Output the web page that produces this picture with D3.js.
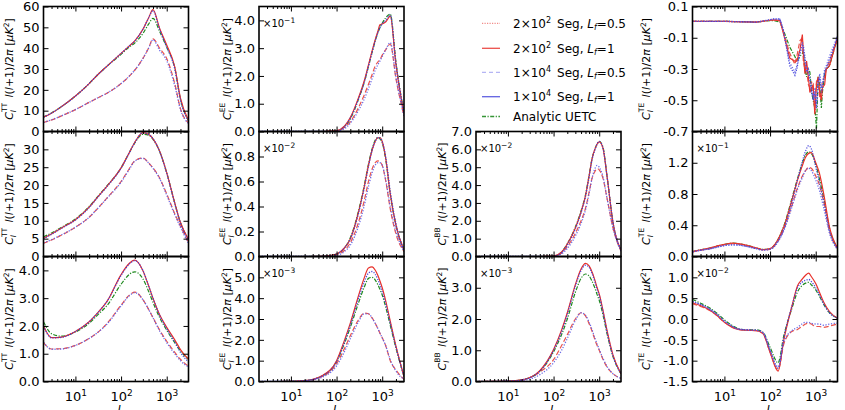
<!DOCTYPE html>
<html>
<head>
<meta charset="utf-8">
<script src="https://cdn.jsdelivr.net/npm/d3@7"></script>
<style>
  body { margin: 0; background: #fff; }
  text { font-family: "DejaVu Sans", sans-serif; fill: #000; }
</style>
</head>
<body>
<svg id="chart" width="845" height="410"></svg>
<script>
// multipole grids
const ellTT  = [2, 3, 5, 10, 20, 30, 50, 100, 150, 200, 300, 400, 500, 700, 1000, 1500, 2000, 3000];
const ellPol = [2, 5, 10, 20, 50, 100, 150, 200, 300, 400, 500, 600, 700, 800, 900, 1000, 1200, 1500, 2000, 3000];
const ellTE  = [2, 3, 5, 7, 10, 15, 20, 30, 50, 70, 100, 150, 200, 300, 400, 500, 600, 700, 800, 1000, 1200, 1500, 2000, 3000];
const ellTE0 = [2, 10, 50, 100, 120, 165, 195, 270, 350, 385, 450, 510, 535, 580, 630, 690, 745, 810, 880, 955, 990, 1040, 1130, 1225, 1330, 1400, 1570, 1700, 2000, 3000];

// TT, top row (scalar)
const tt0_r05  = [4.3, 5.5, 7.5, 10.5, 14, 16, 18.5, 23, 26.5, 29.5, 35, 40, 44.5, 40, 35, 23, 11, 4];
const tt0_r1   = [6.9, 8.8, 12, 17, 23, 27, 31.5, 37.5, 41, 43.5, 49, 54.5, 58.5, 49.5, 41.5, 31, 16, 5.3];
const tt0_b05  = [4.4, 5.6, 7.6, 10.5, 14, 16, 18.5, 23, 26.5, 29.5, 35, 40, 44, 39, 34, 22, 10.5, 3.8];
const tt0_b1   = [6.9, 8.8, 12, 17, 23, 27, 31.5, 37.5, 41, 43.5, 49, 54.5, 58, 49, 40.5, 30, 15, 5];
const tt0_uetc = [7.0, 8.9, 12, 17, 23, 27, 31.5, 37, 40.5, 42.5, 47, 51.5, 54.3, 48, 40.5, 30.5, 15.5, 5.2];
// TT, middle row (vector)
const tt1_r05  = [3.7, 4.6, 6, 8.2, 11, 13.3, 16.5, 21, 24.5, 26.8, 27.6, 26.2, 24.8, 22, 17.5, 12, 8.5, 3.8];
const tt1_r1   = [5.1, 6.3, 8, 10.3, 13.8, 16.5, 19.8, 24.8, 29, 32, 34.7, 34.2, 33, 29.5, 23.5, 15, 9.5, 4.8];
const tt1_b05  = [3.8, 4.7, 6.1, 8.2, 11, 13.3, 16.4, 20.8, 24.3, 26.7, 27.5, 26.2, 24.7, 21.8, 17.2, 11.7, 8.2, 3.6];
const tt1_b1   = [5.0, 6.2, 7.9, 10.2, 13.7, 16.4, 19.7, 24.7, 28.9, 31.9, 34.6, 34.2, 33, 29.4, 23.3, 14.8, 9.3, 4.6];
const tt1_uetc = [5.5, 6.6, 8.2, 10.5, 14, 16.6, 19.9, 24.8, 29, 31.8, 34.2, 34, 32.8, 29.4, 23.4, 15, 9.5, 4.8];
// TT, bottom row (tensor)
const tt2_r05  = [1.4, 1.17, 1.18, 1.3, 1.55, 1.75, 2.1, 2.75, 3.1, 3.22, 2.95, 2.6, 2.3, 1.85, 1.45, 1.05, 0.8, 0.55];
const tt2_r1   = [2.0, 1.58, 1.6, 1.8, 2.15, 2.45, 2.9, 3.85, 4.25, 4.37, 4.0, 3.45, 3.0, 2.4, 1.95, 1.5, 1.15, 0.8];
const tt2_b05  = [1.42, 1.16, 1.17, 1.3, 1.55, 1.75, 2.08, 2.72, 3.08, 3.2, 2.95, 2.6, 2.3, 1.82, 1.4, 1.0, 0.75, 0.52];
const tt2_b1   = [2.0, 1.57, 1.59, 1.8, 2.15, 2.45, 2.9, 3.82, 4.22, 4.35, 4.0, 3.45, 3.0, 2.38, 1.9, 1.42, 1.05, 0.7];
const tt2_uetc = [2.15, 1.72, 1.63, 1.78, 2.1, 2.38, 2.75, 3.5, 3.85, 3.95, 3.7, 3.25, 2.85, 2.3, 1.85, 1.4, 1.1, 0.78];

// EE (values as shown on the axis, before the x10^n factor)
const ee0_r05  = [0, 0, 0, 0, 0, 0.02, 0.15, 0.35, 0.85, 1.3, 1.7, 2.05, 2.35, 2.5, 2.6, 2.75, 2.95, 3.15, 1.9, 0.55];
const ee0_r1   = [0, 0, 0, 0, 0, 0.03, 0.2, 0.5, 1.2, 1.8, 2.4, 2.9, 3.3, 3.6, 3.85, 3.87, 3.95, 4.15, 2.4, 0.64];
const ee0_b05  = [0, 0, 0, 0, 0, 0.01, 0.1, 0.3, 0.75, 1.15, 1.55, 1.9, 2.2, 2.4, 2.55, 2.7, 2.95, 3.2, 1.95, 0.55];
const ee0_b1   = [0, 0, 0, 0, 0, 0.02, 0.18, 0.48, 1.15, 1.75, 2.35, 2.85, 3.25, 3.55, 3.75, 3.88, 4.0, 4.2, 2.45, 0.64];
const ee0_uetc = [0, 0, 0, 0, 0, 0.02, 0.18, 0.45, 1.15, 1.75, 2.35, 2.85, 3.25, 3.55, 3.75, 3.9, 4.1, 4.22, 2.5, 0.64];

const ee1_r05  = [0, 0, 0, 0, 0.002, 0.015, 0.05, 0.11, 0.27, 0.44, 0.6, 0.7, 0.75, 0.765, 0.755, 0.73, 0.6, 0.38, 0.18, 0.04];
const ee1_r1   = [0, 0, 0, 0, 0.002, 0.02, 0.07, 0.14, 0.35, 0.55, 0.73, 0.85, 0.92, 0.95, 0.95, 0.92, 0.78, 0.5, 0.25, 0.05];
const ee1_b05  = [0, 0, 0, 0, 0.001, 0.01, 0.04, 0.09, 0.24, 0.4, 0.56, 0.67, 0.73, 0.75, 0.75, 0.73, 0.61, 0.4, 0.2, 0.04];
const ee1_b1   = [0, 0, 0, 0, 0.002, 0.02, 0.07, 0.14, 0.34, 0.54, 0.72, 0.85, 0.92, 0.95, 0.95, 0.92, 0.79, 0.52, 0.26, 0.05];
const ee1_uetc = [0, 0, 0, 0, 0.003, 0.02, 0.07, 0.15, 0.36, 0.56, 0.74, 0.86, 0.93, 0.95, 0.94, 0.91, 0.77, 0.5, 0.25, 0.05];

const ee2_r05  = [0, 0, 0.01, 0.03, 0.25, 0.85, 1.6, 2.2, 2.95, 3.28, 3.25, 3.05, 2.8, 2.55, 2.3, 2.1, 1.7, 1.0, 0.55, 0.1];
const ee2_r1   = [0, 0, 0.01, 0.04, 0.3, 1.0, 2.0, 2.8, 4.1, 4.95, 5.45, 5.5, 5.35, 5.1, 4.8, 4.5, 3.85, 2.9, 1.7, 0.24];
const ee2_b05  = [0, 0, 0.01, 0.03, 0.22, 0.75, 1.45, 2.05, 2.85, 3.25, 3.25, 3.05, 2.8, 2.55, 2.3, 2.1, 1.7, 1.05, 0.5, 0.1];
const ee2_b1   = [0, 0, 0.01, 0.04, 0.28, 0.95, 1.9, 2.7, 3.95, 4.75, 5.2, 5.28, 5.15, 4.9, 4.6, 4.3, 3.7, 2.8, 1.65, 0.24];
const ee2_uetc = [0, 0, 0.01, 0.04, 0.28, 0.95, 1.85, 2.6, 3.75, 4.5, 4.95, 5.0, 4.88, 4.65, 4.4, 4.15, 3.55, 2.7, 1.6, 0.24];

// BB
const bb1_r05  = [0, 0, 0, 0, 0, 0.02, 0.2, 0.55, 1.3, 2.0, 2.7, 3.6, 4.4, 4.75, 4.92, 4.85, 4.4, 3.2, 1.6, 0.3];
const bb1_r1   = [0, 0, 0, 0, 0, 0.02, 0.25, 0.7, 1.6, 2.5, 3.4, 4.5, 5.5, 6.0, 6.3, 6.42, 6.1, 4.4, 1.9, 0.35];
const bb1_b05  = [0, 0, 0, 0, 0, 0.01, 0.15, 0.45, 1.15, 1.85, 2.6, 3.5, 4.4, 4.9, 5.1, 5.0, 4.5, 3.2, 1.6, 0.3];
const bb1_b1   = [0, 0, 0, 0, 0, 0.02, 0.22, 0.65, 1.55, 2.45, 3.35, 4.45, 5.45, 5.95, 6.3, 6.45, 6.1, 4.4, 1.95, 0.35];
const bb1_uetc = [0, 0, 0, 0, 0, 0.02, 0.25, 0.72, 1.65, 2.55, 3.45, 4.55, 5.5, 6.0, 6.3, 6.45, 6.15, 4.4, 1.9, 0.35];

const bb2_r05  = [0, 0.005, 0.01, 0.04, 0.3, 0.7, 1.15, 1.5, 2.0, 2.2, 2.1, 1.85, 1.6, 1.35, 1.15, 1.0, 0.72, 0.45, 0.25, 0.1];
const bb2_r1   = [0, 0.005, 0.01, 0.05, 0.35, 1.02, 1.65, 2.2, 3.1, 3.6, 3.78, 3.7, 3.5, 3.25, 3.0, 2.8, 2.3, 1.6, 0.85, 0.25];
const bb2_b05  = [0, 0.005, 0.01, 0.03, 0.22, 0.6, 1.0, 1.38, 1.95, 2.2, 2.12, 1.9, 1.65, 1.4, 1.2, 1.03, 0.75, 0.47, 0.25, 0.1];
const bb2_b1   = [0, 0.005, 0.01, 0.05, 0.33, 1.0, 1.6, 2.15, 3.05, 3.55, 3.72, 3.65, 3.45, 3.2, 2.95, 2.75, 2.25, 1.55, 0.82, 0.25];
const bb2_uetc = [0, 0.005, 0.01, 0.05, 0.33, 0.95, 1.5, 2.0, 2.85, 3.3, 3.44, 3.38, 3.2, 3.0, 2.78, 2.6, 2.15, 1.5, 0.8, 0.25];

// TE
const te0_r05  = [0.005, 0.005, 0.0, 0.012, 0.015, 0.008, -0.06, -0.2, -0.27, -0.22, -0.12, -0.1, -0.25, -0.3, -0.3, -0.4, -0.42, -0.38, -0.45, -0.55, -0.45, -0.38, -0.4, -0.48, -0.45, -0.38, -0.35, -0.3, -0.25, -0.1];
const te0_r1   = [0.005, 0.005, 0.0, 0.012, 0.015, 0.01, -0.07, -0.23, -0.25, -0.25, -0.18, -0.08, -0.2, -0.33, -0.25, -0.35, -0.45, -0.42, -0.4, -0.59, -0.5, -0.4, -0.35, -0.45, -0.5, -0.42, -0.4, -0.3, -0.28, -0.1];
const te0_b05  = [0.005, 0.005, 0.0, 0.015, 0.02, 0.018, -0.05, -0.26, -0.32, -0.28, -0.2, -0.13, -0.18, -0.25, -0.32, -0.3, -0.38, -0.45, -0.48, -0.42, -0.48, -0.52, -0.4, -0.33, -0.42, -0.4, -0.3, -0.28, -0.22, -0.09];
const te0_b1   = [0.005, 0.005, 0.0, 0.015, 0.02, 0.02, -0.05, -0.28, -0.34, -0.3, -0.2, -0.15, -0.15, -0.22, -0.3, -0.33, -0.35, -0.42, -0.5, -0.45, -0.5, -0.55, -0.38, -0.35, -0.45, -0.42, -0.32, -0.3, -0.25, -0.09];
const te0_uetc = [0.005, 0.005, 0.0, 0.01, 0.01, 0.0, -0.05, -0.16, -0.22, -0.25, -0.22, -0.2, -0.18, -0.3, -0.35, -0.3, -0.32, -0.45, -0.5, -0.55, -0.6, -0.68, -0.35, -0.4, -0.55, -0.45, -0.33, -0.3, -0.28, -0.1];

const te1_r05  = [0.06, 0.08, 0.105, 0.13, 0.15, 0.165, 0.16, 0.14, 0.105, 0.085, 0.095, 0.2, 0.35, 0.65, 0.88, 1.02, 1.1, 1.14, 1.13, 1.03, 0.92, 0.7, 0.33, 0.1];
const te1_r1   = [0.064, 0.085, 0.11, 0.135, 0.155, 0.17, 0.165, 0.145, 0.11, 0.088, 0.1, 0.22, 0.38, 0.72, 0.98, 1.15, 1.27, 1.32, 1.33, 1.2, 1.07, 0.8, 0.38, 0.11];
const te1_b05  = [0.06, 0.08, 0.1, 0.12, 0.14, 0.15, 0.145, 0.13, 0.1, 0.082, 0.09, 0.19, 0.33, 0.63, 0.86, 1.0, 1.1, 1.13, 1.1, 0.98, 0.85, 0.62, 0.3, 0.09];
const te1_b1   = [0.06, 0.08, 0.1, 0.12, 0.14, 0.15, 0.148, 0.13, 0.1, 0.085, 0.095, 0.2, 0.35, 0.7, 0.98, 1.2, 1.35, 1.42, 1.38, 1.15, 0.95, 0.7, 0.33, 0.1];
const te1_uetc = [0.064, 0.085, 0.11, 0.135, 0.155, 0.17, 0.165, 0.145, 0.11, 0.09, 0.1, 0.22, 0.39, 0.74, 1.0, 1.18, 1.3, 1.34, 1.32, 1.18, 1.0, 0.75, 0.36, 0.11];

const te2_r05  = [0.37, 0.3, 0.19, 0.07, -0.08, -0.2, -0.25, -0.27, -0.28, -0.35, -0.8, -1.22, -0.6, -0.3, -0.25, -0.18, -0.12, -0.1, -0.12, -0.18, -0.18, -0.2, -0.17, -0.12];
const te2_r1   = [0.39, 0.32, 0.2, 0.08, -0.08, -0.2, -0.25, -0.27, -0.28, -0.35, -0.8, -1.25, -0.5, 0.3, 0.8, 0.95, 1.05, 1.1, 1.02, 0.85, 0.65, 0.4, 0.18, 0.02];
const te2_b05  = [0.42, 0.35, 0.22, 0.1, -0.05, -0.18, -0.24, -0.26, -0.27, -0.33, -0.75, -1.15, -0.55, -0.28, -0.2, -0.12, -0.08, -0.08, -0.1, -0.12, -0.12, -0.15, -0.12, -0.1];
const te2_b1   = [0.42, 0.35, 0.22, 0.1, -0.05, -0.18, -0.24, -0.26, -0.27, -0.33, -0.75, -1.18, -0.45, 0.3, 0.75, 0.88, 0.93, 0.95, 0.9, 0.75, 0.58, 0.36, 0.15, 0.02];
const te2_uetc = [0.47, 0.38, 0.25, 0.13, -0.02, -0.16, -0.23, -0.26, -0.26, -0.32, -0.68, -1.05, -0.4, 0.25, 0.65, 0.8, 0.86, 0.88, 0.82, 0.7, 0.55, 0.35, 0.15, 0.02];

// y ticks per panel
const ttTicks0 = [0, 10, 20, 30, 40, 50, 60];
const ttTicks1 = [0, 5, 10, 15, 20, 25, 30];
const ttTicks2 = [0, 1, 2, 3, 4];
const eeTicks0 = [0, 1, 2, 3, 4];
const eeTicks1 = [0, 0.2, 0.4, 0.6, 0.8];
const eeTicks2 = [0, 1, 2, 3, 4, 5];
const bbTicks1 = [0, 1, 2, 3, 4, 5, 6, 7];
const bbTicks2 = [0, 1, 2, 3];
const teTicks0 = [-0.7, -0.5, -0.3, -0.1, 0.1];
const teTicks1 = [0, 0.4, 0.8, 1.2];
const teTicks2 = [-1.5, -1, -0.5, 0, 0.5, 1];

const xMajor = [10, 100, 1000];
const xMinor = [3, 4, 5, 6, 7, 8, 9, 20, 30, 40, 50, 60, 70, 80, 90, 200, 300, 400, 500, 600, 700, 800, 900, 2000];

// legend text
const legendKeys = ["r05", "r1", "b05", "b1", "uetc"];
const legendCount = ["2×10", "2×10", "1×10", "1×10", null];
const legendExp = ["2", "2", "4", "4", null];
const legendLf = ["0.5", "1", "0.5", "1", null];

const panels = [
  {row: 0, col: 0, spec: "TT", ell: ellTT, s: {r05: tt0_r05, r1: tt0_r1, b05: tt0_b05, b1: tt0_b1, uetc: tt0_uetc}, ydom: [0, 60], ticks: ttTicks0, fmt: "d", mult: null},
  {row: 1, col: 0, spec: "TT", ell: ellTT, s: {r05: tt1_r05, r1: tt1_r1, b05: tt1_b05, b1: tt1_b1, uetc: tt1_uetc}, ydom: [0, 35], ticks: ttTicks1, fmt: "d", mult: null},
  {row: 2, col: 0, spec: "TT", ell: ellTT, s: {r05: tt2_r05, r1: tt2_r1, b05: tt2_b05, b1: tt2_b1, uetc: tt2_uetc}, ydom: [0, 4.5], ticks: ttTicks2, fmt: ".1f", mult: null},
  {row: 0, col: 1, spec: "EE", ell: ellPol, s: {r05: ee0_r05, r1: ee0_r1, b05: ee0_b05, b1: ee0_b1, uetc: ee0_uetc}, ydom: [0, 4.5], ticks: eeTicks0, fmt: ".1f", mult: "\u22121"},
  {row: 1, col: 1, spec: "EE", ell: ellPol, s: {r05: ee1_r05, r1: ee1_r1, b05: ee1_b05, b1: ee1_b1, uetc: ee1_uetc}, ydom: [0, 1.0], ticks: eeTicks1, fmt: ".1f", mult: "\u22122"},
  {row: 2, col: 1, spec: "EE", ell: ellPol, s: {r05: ee2_r05, r1: ee2_r1, b05: ee2_b05, b1: ee2_b1, uetc: ee2_uetc}, ydom: [0, 6], ticks: eeTicks2, fmt: ".1f", mult: "\u22123"},
  {row: 1, col: 2, spec: "BB", ell: ellPol, s: {r05: bb1_r05, r1: bb1_r1, b05: bb1_b05, b1: bb1_b1, uetc: bb1_uetc}, ydom: [0, 7], ticks: bbTicks1, fmt: ".1f", mult: "\u22122"},
  {row: 2, col: 2, spec: "BB", ell: ellPol, s: {r05: bb2_r05, r1: bb2_r1, b05: bb2_b05, b1: bb2_b1, uetc: bb2_uetc}, ydom: [0, 4], ticks: bbTicks2, fmt: ".1f", mult: "\u22123"},
  {row: 0, col: 3, spec: "TE", ell: ellTE0, s: {r05: te0_r05, r1: te0_r1, b05: te0_b05, b1: te0_b1, uetc: te0_uetc}, ydom: [-0.7, 0.1], ticks: teTicks0, fmt: ".1f", mult: null, jagged: true},
  {row: 1, col: 3, spec: "TE", ell: ellTE, s: {r05: te1_r05, r1: te1_r1, b05: te1_b05, b1: te1_b1, uetc: te1_uetc}, ydom: [0, 1.6], ticks: teTicks1, fmt: ".1f", mult: "\u22121"},
  {row: 2, col: 3, spec: "TE", ell: ellTE, s: {r05: te2_r05, r1: te2_r1, b05: te2_b05, b1: te2_b1, uetc: te2_uetc}, ydom: [-1.5, 1.5], ticks: teTicks2, fmt: ".1f", mult: "\u22122"}
];

// layout + styles
const colLeft = [43.5, 259, 476, 692.5], panelW = 145;
const rowTop = [6.5, 131.5, 256.5], panelH = 125;
const ylabX = [13, 231, 446, 650];
const drawOrder = ["uetc", "r1", "r05", "b1", "b05"];
const styles = {
  r05:  {color: "#e8403a", dash: "5,2.5", w: 1.2, op: 0.9, legendDash: "1.2,1.3", legendOp: 0.6},
  r1:   {color: "#e8302a", dash: null, w: 1.2, op: 1, legendDash: null, legendOp: 0.85},
  b05:  {color: "#5a5ae6", dash: "1.2,1.6", w: 1.3, op: 0.9, legendDash: "4,3", legendOp: 0.45},
  b1:   {color: "#3a3ad8", dash: "1.2,1.4", w: 1.3, op: 0.9, legendDash: null, legendOp: 0.8},
  uetc: {color: "#1f8a1f", dash: "4,1.5,1.2,1.5", w: 1.2, op: 1, legendDash: "4,1.5,1.2,1.5", legendOp: 0.9}
};

const svg = d3.select("#chart");
const defs = svg.append("defs");

panels.forEach((p, i) => {
  const left = colLeft[p.col], top = rowTop[p.row];
  const x = d3.scaleLog().domain([2, 3000]).range([left, left + panelW]);
  const y = d3.scaleLinear().domain(p.ydom).range([top + panelH, top]);
  const g = svg.append("g");

  defs.append("clipPath").attr("id", "clip" + i)
    .append("rect").attr("x", left).attr("y", top).attr("width", panelW).attr("height", panelH);

  // curves
  const line = d3.line()
    .x(d => x(d[0])).y(d => y(d[1]))
    .curve(p.jagged ? d3.curveLinear : d3.curveMonotoneX);
  const lines = g.append("g").attr("clip-path", `url(#clip${i})`);
  drawOrder.forEach(k => {
    const st = styles[k];
    lines.append("path")
      .datum(p.ell.map((l, j) => [l, p.s[k][j]]))
      .attr("d", line)
      .attr("fill", "none")
      .attr("stroke", st.color)
      .attr("stroke-width", st.w)
      .attr("stroke-opacity", st.op)
      .attr("stroke-dasharray", st.dash);
  });

  // ticks, all pointing inwards
  const fmt = d3.format(p.fmt);
  const bottom = g.append("g").attr("transform", `translate(0,${top + panelH})`)
    .call(d3.axisBottom(x).tickValues(xMajor).tickSize(-5).tickPadding(10)
      .tickFormat(p.row === 2 ? () => "10" : () => ""));
  g.append("g").attr("transform", `translate(0,${top + panelH})`)
    .call(d3.axisBottom(x).tickValues(xMinor).tickSize(-2.5).tickFormat(() => ""));
  g.append("g").attr("transform", `translate(0,${top})`)
    .call(d3.axisTop(x).tickValues(xMajor).tickSize(-5).tickFormat(() => ""));
  g.append("g").attr("transform", `translate(0,${top})`)
    .call(d3.axisTop(x).tickValues(xMinor).tickSize(-2.5).tickFormat(() => ""));
  g.append("g").attr("transform", `translate(${left},0)`)
    .call(d3.axisLeft(y).tickValues(p.ticks).tickSize(-5).tickPadding(4).tickFormat(d => fmt(d).replace("\u2212", "-")));
  g.append("g").attr("transform", `translate(${left + panelW},0)`)
    .call(d3.axisRight(y).tickValues(p.ticks).tickSize(-5).tickFormat(() => ""));

  g.selectAll(".domain").remove();
  g.selectAll(".tick line").attr("stroke", "#000").attr("stroke-width", 1);
  g.selectAll(".tick text").attr("font-size", 13).attr("font-family", "DejaVu Sans, sans-serif").attr("fill", "#000");

  if (p.row === 2) {
    bottom.selectAll(".tick text").each(function(d) {
      d3.select(this).append("tspan")
        .attr("dy", -5).attr("font-size", 9)
        .text(String(Math.round(Math.log10(d))));
    });
    g.append("text")
      .attr("x", left + panelW / 2 + 3).attr("y", 415)
      .attr("font-size", 12).attr("font-style", "italic")
      .attr("text-anchor", "middle").text("l");
  }

  // frame
  g.append("rect")
    .attr("x", left).attr("y", top).attr("width", panelW).attr("height", panelH)
    .attr("fill", "none").attr("stroke", "#000").attr("stroke-width", 1.6);

  // scale factor
  if (p.mult) {
    const t = g.append("text").attr("x", left + 4).attr("y", top + 20).attr("font-size", 10);
    t.append("tspan").text("×10");
    t.append("tspan").attr("dy", -4).attr("font-size", 7.5).text(p.mult);
  }

  // y label
  const cy = top + panelH / 2;
  const lab = g.append("text")
    .attr("transform", `translate(${ylabX[p.col]},${cy}) rotate(-90)`)
    .attr("text-anchor", "middle").attr("font-size", 11);
  lab.append("tspan").attr("font-style", "italic").text("C");
  lab.append("tspan").attr("font-style", "italic").attr("font-size", 7.5).attr("dy", 3).text("l");
  lab.append("tspan").attr("font-size", 7.5).attr("dx", -2).attr("dy", -9).text(p.spec);
  lab.append("tspan").attr("dy", 6).text("\u2002");
  lab.append("tspan").attr("font-style", "italic").text("l");
  lab.append("tspan").text("(");
  lab.append("tspan").attr("font-style", "italic").text("l");
  lab.append("tspan").text("+1)/2");
  lab.append("tspan").attr("font-style", "italic").text("π");
  lab.append("tspan").text(" [");
  lab.append("tspan").attr("font-style", "italic").text("μK");
  lab.append("tspan").attr("font-size", 7.5).attr("dy", -4).text("2");
  lab.append("tspan").attr("dy", 4).text("]");
});

// legend in the empty top cell of the BB column
const legendY = [23.3, 48.3, 72.3, 96.7, 116.5];
const leg = svg.append("g");
legendKeys.forEach((k, i) => {
  const st = styles[k];
  const yy = legendY[i];
  leg.append("line")
    .attr("x1", 482).attr("x2", 500).attr("y1", yy).attr("y2", yy)
    .attr("stroke", st.color).attr("stroke-width", 1.3)
    .attr("stroke-opacity", st.legendOp)
    .attr("stroke-dasharray", st.legendDash);
  const t = leg.append("text").attr("x", 513).attr("y", yy + 4.5).attr("font-size", 12);
  if (legendCount[i]) {
    t.append("tspan").text(legendCount[i]);
    t.append("tspan").attr("font-size", 8).attr("dy", -5).text(legendExp[i]);
    t.append("tspan").attr("dy", 5).text("\u2002Seg, ");
    t.append("tspan").attr("font-style", "italic").text("L");
    t.append("tspan").attr("font-style", "italic").attr("font-size", 8).attr("dy", 2).text("f");
    t.append("tspan").attr("dy", -2).text("=" + legendLf[i]);
  } else {
    t.text("Analytic UETC");
  }
});
</script>
</body>
</html>
